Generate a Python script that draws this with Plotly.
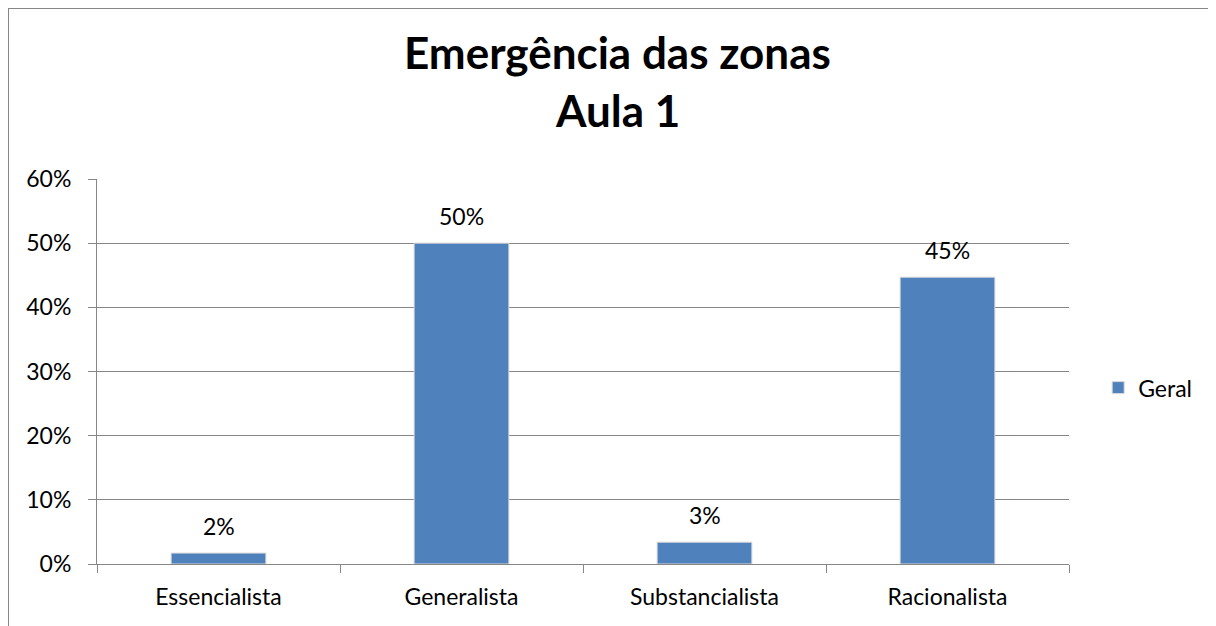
""" Bar chart: emergência das zonas, aula 1. """

import plotly.graph_objects as go

categories = ['Essencialista', 'Generalista', 'Substancialista', 'Racionalista']
geral = [0.017, 0.50, 0.034, 0.447]
y_ticks = [0, 0.1, 0.2, 0.3, 0.4, 0.5, 0.6]
y_tick_labels = ['0%', '10%', '20%', '30%', '40%', '50%', '60%']
title_lines = ['Emergência das zonas', 'Aula 1']

FONT = 'Lato'
GRID = '#868686'

fig = go.Figure()
fig.add_trace(go.Bar(
    x=categories,
    y=geral,
    name='Geral',
    width=0.39,
    marker=dict(color='#4F81BD', line=dict(color='#DADADA', width=1)),
))

# Value labels above each bar
for cat, val in zip(categories, geral):
    fig.add_annotation(
        x=cat, y=val, text=f'{val:.0%}', showarrow=False,
        yanchor='middle', yshift=27,
        font=dict(family=FONT, size=23, color='black'),
    )

# Two-line bold title
for line, ty in zip(title_lines, [1.33, 1.179]):
    fig.add_annotation(
        xref='paper', yref='paper', x=0.536, y=ty,
        xanchor='center', yanchor='middle',
        text=f'<b>{line}</b>', showarrow=False,
        font=dict(family=FONT, size=44, color='black'),
    )

# page body adds an 8px offset, so the figure is 8px smaller and margins shifted
fig.update_layout(
    width=1208, height=618,
    margin=dict(l=89, r=147, t=171, b=62),
    paper_bgcolor='white',
    plot_bgcolor='white',
    font=dict(family=FONT, size=23, color='black'),
    showlegend=True,
    legend=dict(
        x=1.030, y=0.458, xanchor='left', yanchor='middle',
        font=dict(family=FONT, size=23, color='black'),
        itemwidth=30,
    ),
)

fig.update_yaxes(
    range=[0, 0.6],
    tickvals=y_ticks,
    ticktext=y_tick_labels,
    showgrid=True, gridcolor=GRID, gridwidth=1,
    showline=True, linecolor=GRID, linewidth=1,
    ticks='outside', ticklen=8, tickcolor=GRID,
    ticklabelstandoff=12,
    zeroline=False,
)
fig.update_xaxes(
    showline=True, linecolor=GRID, linewidth=1,
    ticks='outside', ticklen=8, tickcolor=GRID,
    tickson='boundaries',
    ticklabelstandoff=12,
)

# Outer chart frame (top and left edges visible in the crop)
fig.add_shape(type='line', xref='paper', yref='paper',
              x0=-89 / 972, x1=1.2, y0=556 / 385, y1=556 / 385,
              line=dict(color=GRID, width=2))
fig.add_shape(type='line', xref='paper', yref='paper',
              x0=-89 / 972, x1=-89 / 972, y0=556 / 385, y1=-0.3,
              line=dict(color=GRID, width=2))

fig.write_html('out.html')
